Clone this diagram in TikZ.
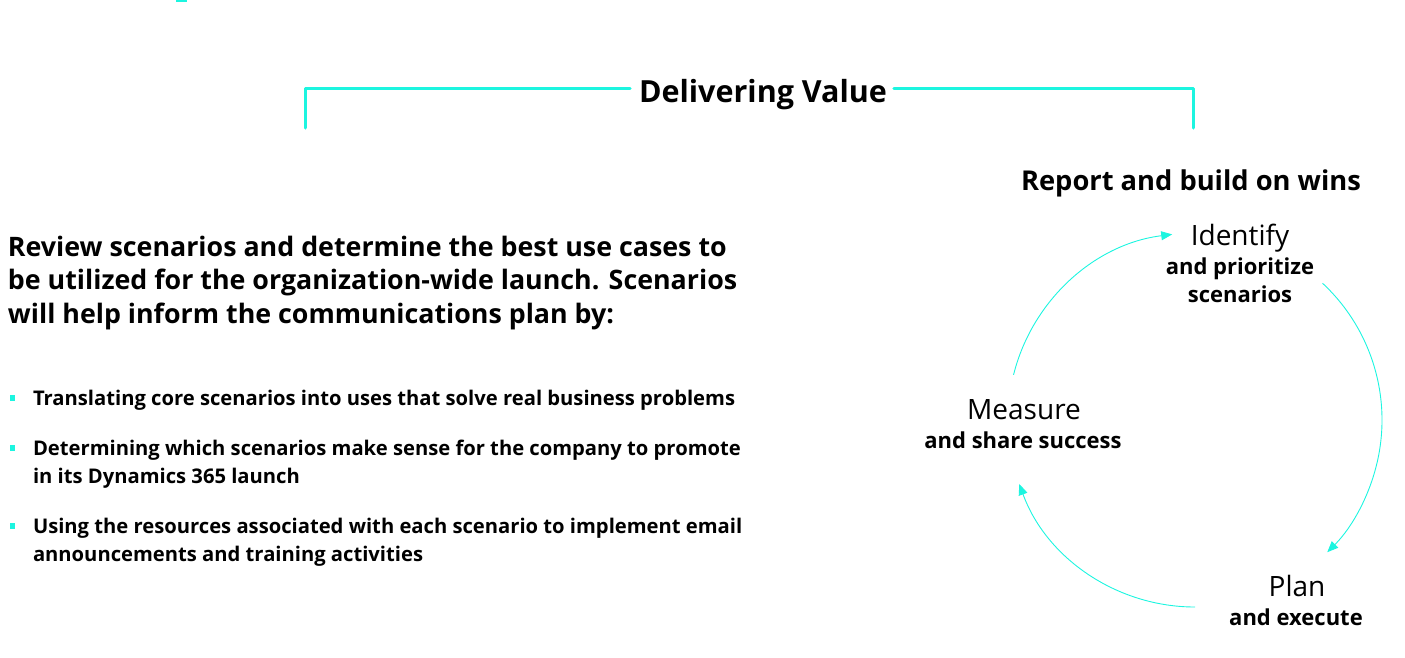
\documentclass[tikz,border=0pt]{standalone}
\usepackage{fontspec}
\setmainfont{Open Sans}
\newfontfamily\lightfont{Open Sans}
\usetikzlibrary{arrows.meta}
\definecolor{aqua}{RGB}{28,245,224}
\tikzset{
  txt/.style={inner sep=0pt, outer sep=0pt, anchor=base},
  ltxt/.style={inner sep=0pt, outer sep=0pt, anchor=base west},
  bracket/.style={draw=aqua, line width=3pt, line cap=round, line join=round},
  cyc/.style={draw=aqua, line width=0.9pt, -{Triangle[length=11pt,width=9pt]}},
  bul/.style={fill=aqua, draw=none, minimum size=5.5pt, inner sep=0pt},
  para/.style={ltxt, font=\bfseries\fontsize{26.8}{33.5}\selectfont},
  item/.style={ltxt, font=\bfseries\fontsize{20.2}{28}\selectfont, align=left},
  head/.style={txt, font=\lightfont\fontsize{28}{32}\selectfont},
  sub/.style={txt, font=\bfseries\fontsize{22}{28}\selectfont, align=center}
}
\begin{document}
\begin{tikzpicture}[x=1pt,y=-1pt]
\useasboundingbox (0,0) rectangle (1405,657);
% cropped decoration at the top edge
\draw[aqua, line width=2pt] (176,0.5) -- (187,0.5);
% title bracket
\node[txt, font=\bfseries\fontsize{30.5}{34}\selectfont] (title) at (763,102) {Delivering Value};
\coordinate (bl) at (305,128);
\coordinate (br) at (1193,128);
\draw[bracket] (bl) |- ([xshift=-9pt]title.west |- 0,88);
\draw[bracket] ([xshift=7pt]title.east |- 0,88) -| (br);
% left paragraph
\node[para] (p1) at (8,256) {Review scenarios and determine the best use cases to};
\node[para] (p2) at (8,289.5) {be utilized for the organization-wide launch. Scenarios};
\node[para] (p3) at (8,323) {will help inform the communications plan by:};
% bullets
\node[bul] (b1) at (12.5,398) {};
\node[bul] (b2) at (12.5,448) {};
\node[bul] (b3) at (12.5,526) {};
\node[item] (i1) at (33,405) {Translating core scenarios into uses that solve real business problems};
\node[item] (i2a) at (33,455) {Determining which scenarios make sense for the company to promote};
\node[item] (i2b) at (33,483) {in its Dynamics 365 launch};
\node[item] (i3a) at (33,533) {Using the resources associated with each scenario to implement email};
\node[item] (i3b) at (33,561) {announcements and training activities};
% cycle
\node[txt, font=\bfseries\fontsize{27.3}{30}\selectfont] (rep) at (1191,190) {Report and build on wins};
\node[head] (id) at (1240,245) {Identify};
\node[sub] (id2) at (1240,274) {and prioritize};
\node[sub] (id3) at (1240,302) {scenarios};
\node[head] (me) at (1024,419) {Measure};
\node[sub] (me2) at (1023,448) {and share success};
\node[head] (pl) at (1297,596) {Plan};
\node[sub] (pl2) at (1296,625) {and execute};
\coordinate (cc) at (1195,420);
\path (cc) ++(-166:187) coordinate (a1s);
\path (cc) ++(-47:187) coordinate (a2s);
\path (cc) ++(90:187) coordinate (a3s);
\draw[cyc] (a1s) arc[start angle=-166, end angle=-97, radius=187];
\draw[cyc] (a2s) arc[start angle=-47, end angle=45, radius=187];
\draw[cyc] (a3s) arc[start angle=90, end angle=160, radius=187];
\end{tikzpicture}
\end{document}
